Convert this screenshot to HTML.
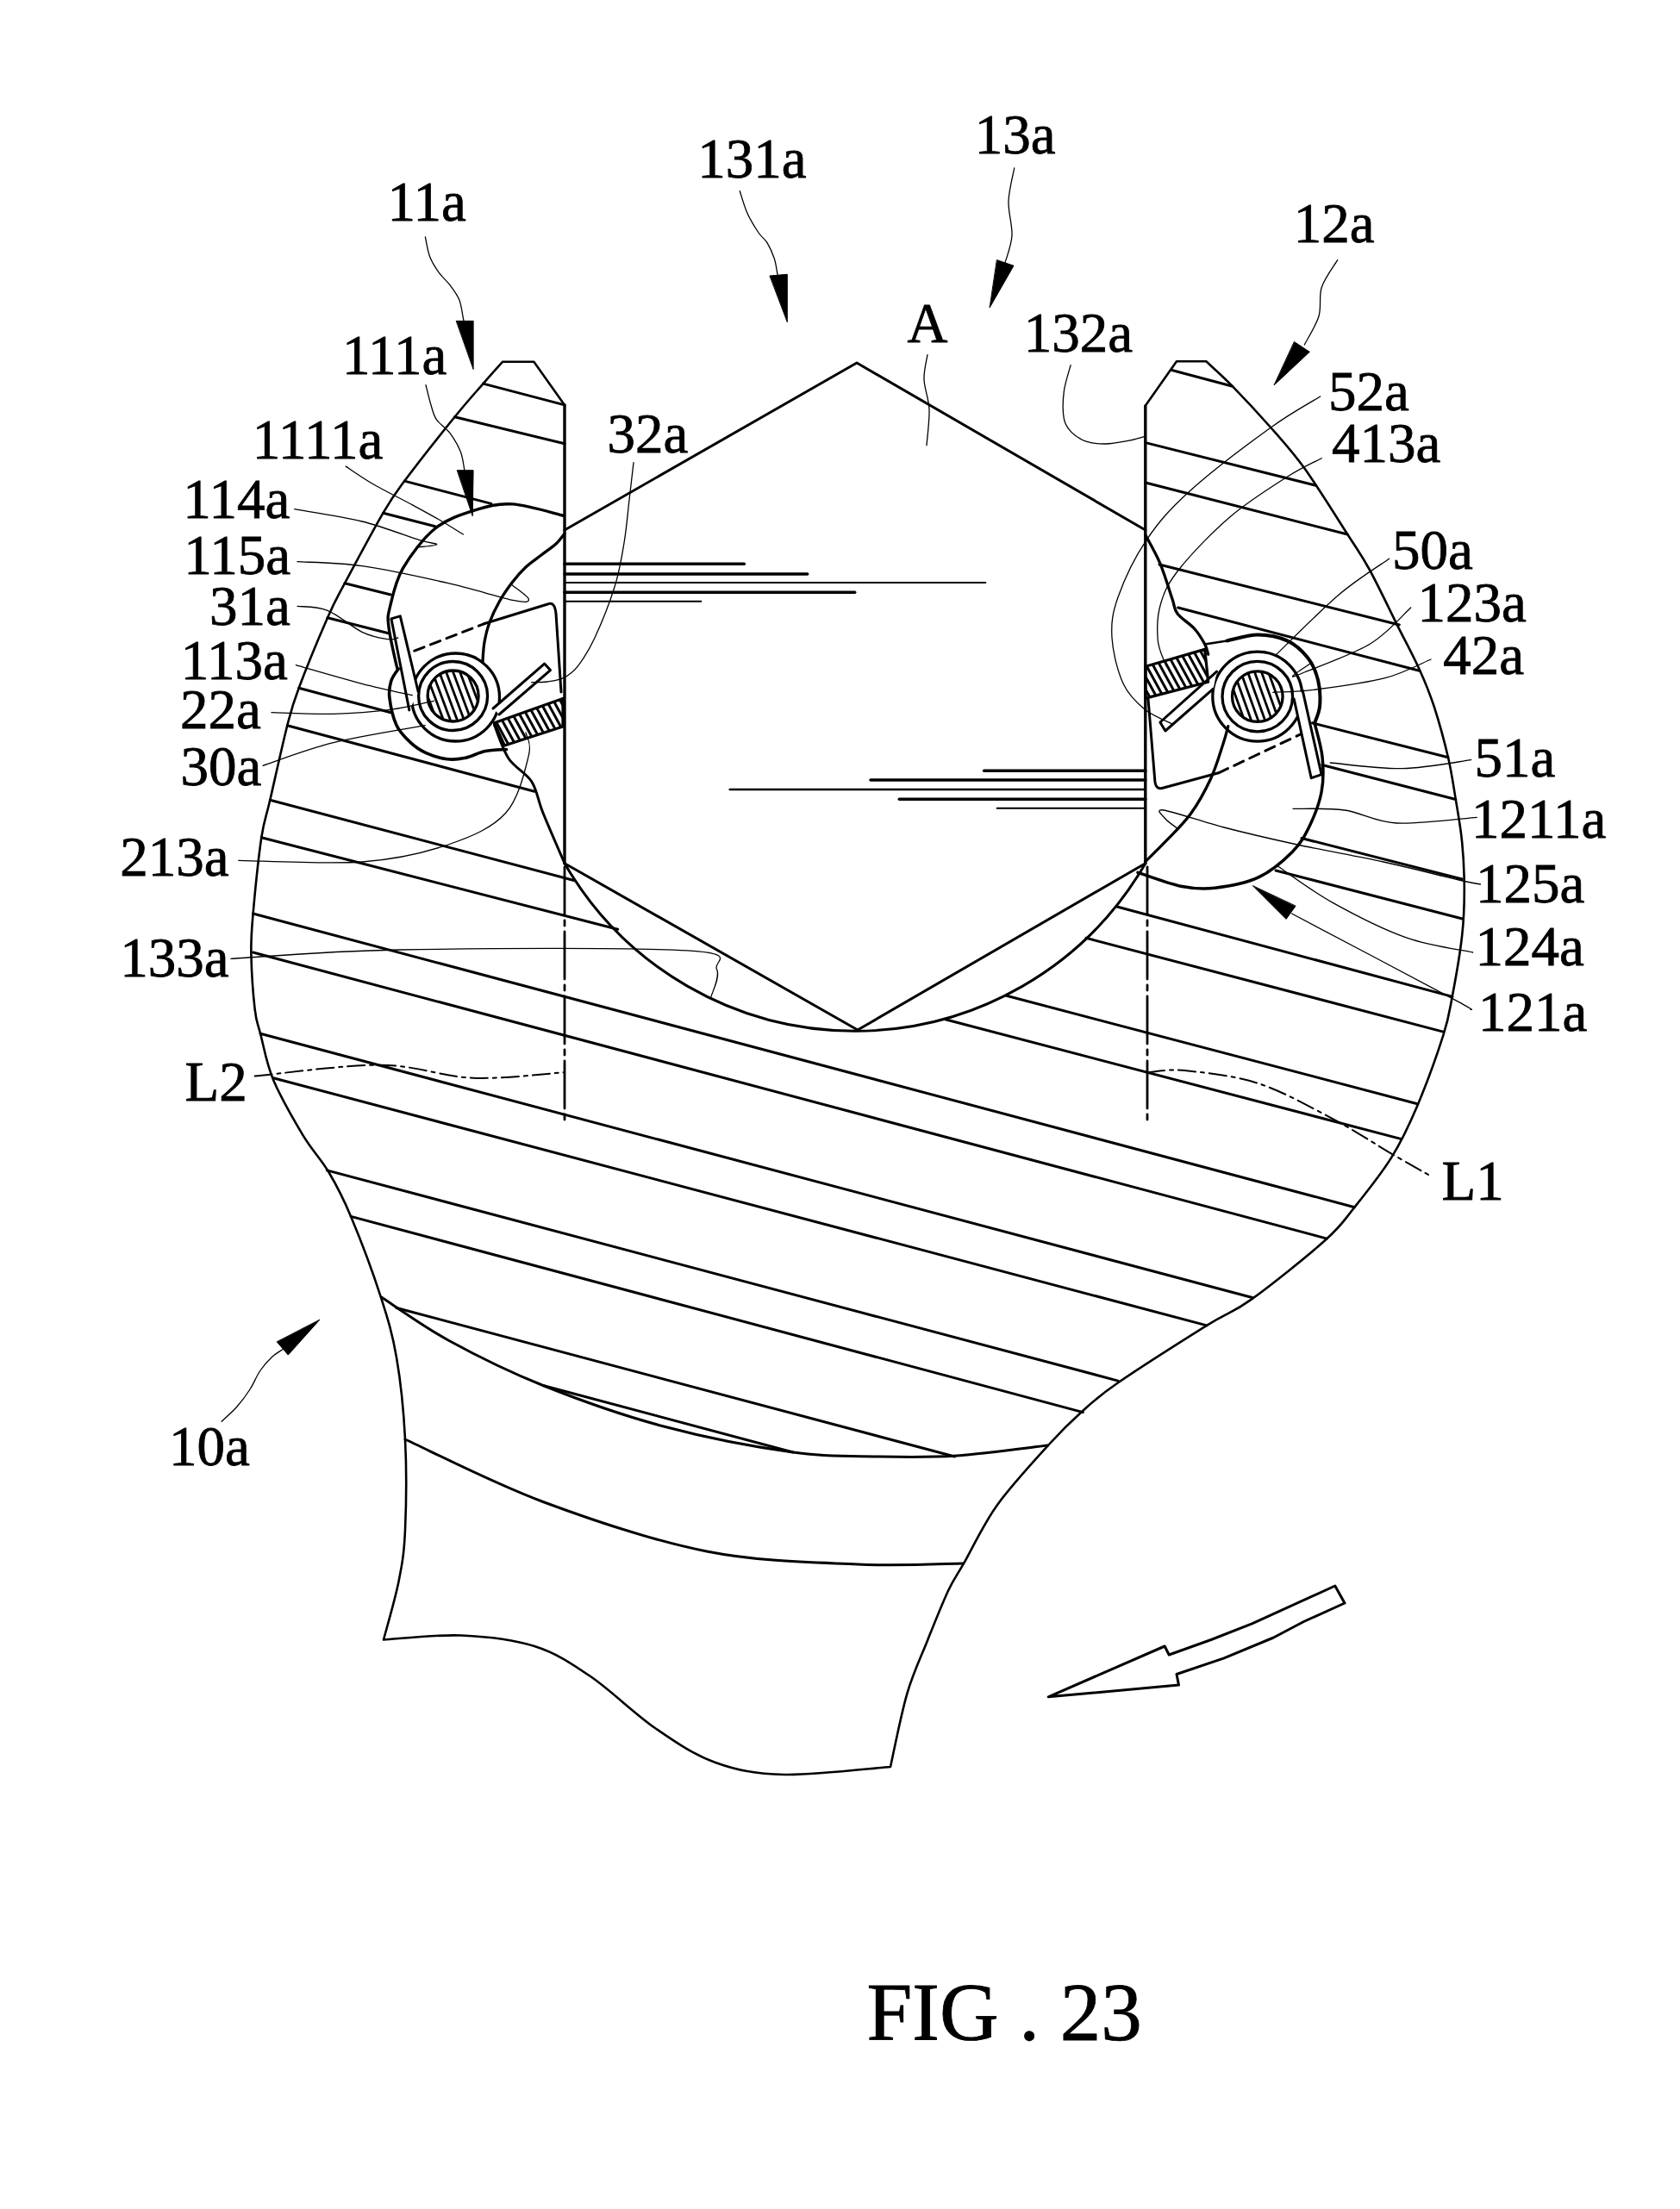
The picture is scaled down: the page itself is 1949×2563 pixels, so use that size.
<!DOCTYPE html><html><head><meta charset="utf-8"><style>html,body{margin:0;padding:0;background:#fff;}svg{display:block;}</style></head><body><svg width="1949" height="2563" viewBox="0 0 1949 2563"><defs><clipPath id="pinclip"><circle cx="525.6" cy="807.5" r="28.5"/></clipPath><clipPath id="blkclip"><path d="M573.4,838.8 L653,810.4 L653,843 L585.3,865 Z"/></clipPath><clipPath id="pinclip2"><circle cx="1458.8" cy="808.1" r="28.3"/></clipPath><clipPath id="blkclip2"><path d="M1329,773.3 L1397.7,753.4 L1401.7,791.2 L1329,810.1 Z"/></clipPath></defs><g fill="none" stroke="#000" stroke-linecap="round" stroke-linejoin="round"><path d="M655,469.9 L619.4,419.7 L583.2,419.7 C579.4,423.9 569.9,434.4 560.6,445.1 C551.3,455.8 542.7,465 527.5,483.8 C512.3,502.6 483.1,539.5 469.3,558.1 C455.5,576.7 456.1,575.4 444.5,595.2 C432.9,615 410.8,656.5 400,676.7 C389.2,697 388.9,696.4 380,716.7 C371.1,737 354.5,777.5 346.7,798.3 C338.9,819.1 338.9,820 333.3,841.7 C327.7,863.4 318.3,906.6 313.3,928.3 C308.3,950 306.6,949.8 303.3,971.7 C300,993.7 295.6,1037.4 293.6,1060 C291.6,1082.6 291,1088.5 291.4,1107.1 C291.8,1125.7 293.9,1156 295.7,1171.4 C297.5,1186.8 298.5,1185.7 302.1,1199.3 C305.7,1212.9 308.9,1233.3 317.1,1252.9 C325.3,1272.5 340.7,1299.2 351.4,1317.1 C362.1,1334.9 372.1,1344.3 381.4,1360 C390.7,1375.7 397.1,1387.5 407.1,1411.4 C417.1,1435.3 432.6,1476.3 441.4,1503.6 C450.2,1530.9 455.2,1547.3 460,1575 C464.8,1602.7 468.3,1636.7 470,1670 C471.7,1703.3 471.2,1747.5 470,1775 C468.8,1802.5 466.7,1813.8 462.5,1835 C458.3,1856.2 447.9,1891.2 445,1902.5 C460,1901.7 505.8,1896.2 535,1897.5 C564.2,1898.8 595,1902.1 620,1910 C645,1917.9 661.7,1929.2 685,1945 C708.3,1960.8 735.8,1988.3 760,2005 C784.2,2021.7 805,2036 830,2045 C855,2054 876.2,2058.2 910,2059 C943.8,2059.8 1012.5,2051.5 1033,2050 C1036.2,2035.8 1045.2,1989.3 1052.4,1964.8 C1059.6,1940.3 1068.3,1922.8 1076.2,1902.9 C1084.1,1883.1 1092.9,1860.8 1100,1845.7 C1107.1,1830.6 1109.5,1829 1119,1812.4 C1128.5,1795.8 1140.4,1769.2 1156.9,1746.2 C1173.5,1723.2 1202.1,1692.4 1218.3,1674.5 C1234.5,1656.6 1241.1,1650.4 1254.2,1638.7 C1267.3,1627 1272.8,1621.1 1297.1,1604.3 C1321.4,1587.5 1374.3,1554 1400,1537.9 C1425.7,1521.8 1428.6,1524.3 1451.4,1507.9 C1474.2,1491.5 1517.1,1457.2 1537.1,1439.3 C1557.1,1421.4 1558.5,1416.8 1571.4,1400.7 C1584.3,1384.6 1602.2,1362.5 1614.3,1342.9 C1626.4,1323.3 1634.3,1306.5 1644.3,1282.9 C1654.3,1259.3 1667.5,1222.7 1674.3,1201.4 C1681.1,1180.1 1681.3,1174.4 1685,1155 C1688.7,1135.6 1694,1105.4 1696.2,1085 C1698.5,1064.6 1698.8,1050.4 1698.8,1032.5 C1698.8,1014.6 1697.9,995 1696.2,977.5 C1694.6,960 1691.5,944 1688.8,927.5 C1686,911 1684.2,896.7 1680,878.8 C1675.8,860.8 1669.3,837 1663.8,820 C1658.2,803 1654,792.8 1646.7,776.7 C1639.4,760.6 1629.7,742.8 1620,723.3 C1610.3,703.8 1597.8,677.2 1588.3,660 C1578.8,642.8 1575.8,639.5 1563.3,620 C1550.8,600.5 1528.3,564.1 1513.3,543.3 C1498.3,522.5 1487.2,510.8 1473.3,495 C1459.4,479.2 1442.3,460.9 1430,448.3 C1417.7,435.7 1404.4,424.1 1399.3,419.3 L1365,419.3 L1328.6,471" stroke-width="2.6"/><line x1="655" y1="469.9" x2="655" y2="1001.7" stroke-width="3.4"/><line x1="1328.8" y1="471" x2="1328.8" y2="1001.7" stroke-width="3.4"/><line x1="655" y1="1006" x2="655" y2="1304" stroke-width="2.8" stroke-dasharray="55,7,6,7"/><line x1="1331" y1="1006" x2="1331" y2="1304" stroke-width="2.8" stroke-dasharray="55,7,6,7"/><path d="M655,615 L994,421 L1328.8,615" stroke-width="3"/><path d="M655,1001.7 L995,1195 L1328.8,1001.7" stroke-width="3"/><path d="M655,1001.7 A389,389 0 0 0 1328.8,1001.7" stroke-width="3"/><line x1="560.6" y1="445.1" x2="655" y2="469.9" stroke-width="3.0"/><line x1="527.5" y1="483.8" x2="655" y2="514.8" stroke-width="3.0"/><line x1="469.3" y1="558.1" x2="569.9" y2="584.4" stroke-width="3.0"/><line x1="444.5" y1="595.2" x2="504.9" y2="610.7" stroke-width="3.0"/><line x1="400" y1="676.7" x2="453.3" y2="690" stroke-width="3.0"/><line x1="380" y1="716.7" x2="451.7" y2="735" stroke-width="3.0"/><line x1="346.7" y1="798.3" x2="453.3" y2="826.7" stroke-width="3.0"/><line x1="333.3" y1="841.7" x2="620" y2="918.3" stroke-width="3.0"/><line x1="313.3" y1="928.3" x2="666.7" y2="1021.7" stroke-width="3.0"/><line x1="303.3" y1="971.7" x2="716.7" y2="1078.3" stroke-width="3.0"/><line x1="293.6" y1="1060" x2="1571.4" y2="1400.7" stroke-width="3.0"/><line x1="293.6" y1="1105" x2="1539.3" y2="1437.1" stroke-width="3.0"/><line x1="302.1" y1="1199.3" x2="1453.6" y2="1505.7" stroke-width="3.0"/><line x1="317.1" y1="1250.7" x2="1400" y2="1537.9" stroke-width="3.0"/><line x1="379.3" y1="1357.9" x2="1297.1" y2="1602.1" stroke-width="3.0"/><line x1="407.1" y1="1411.4" x2="1256.4" y2="1638.6" stroke-width="3.0"/><line x1="460" y1="1517.5" x2="1107.5" y2="1690" stroke-width="3.0"/><line x1="630" y1="1607.5" x2="920" y2="1685" stroke-width="3.0"/><line x1="1358.6" y1="429.3" x2="1430" y2="448.3" stroke-width="3.0"/><line x1="1329" y1="513.6" x2="1526.7" y2="563.3" stroke-width="3.0"/><line x1="1329" y1="560" x2="1563.3" y2="620" stroke-width="3.0"/><line x1="1345" y1="655" x2="1623.3" y2="725" stroke-width="3.0"/><line x1="1366.7" y1="705" x2="1646.7" y2="778.3" stroke-width="3.0"/><line x1="1522.5" y1="838.8" x2="1680" y2="878.8" stroke-width="3.0"/><line x1="1533.8" y1="887.5" x2="1688.8" y2="927.5" stroke-width="3.0"/><line x1="1510" y1="972.5" x2="1696.2" y2="1020" stroke-width="3.0"/><line x1="1480" y1="1010" x2="1697.5" y2="1066.2" stroke-width="3.0"/><line x1="1295" y1="1051.7" x2="1685" y2="1156.4" stroke-width="3.0"/><line x1="1260" y1="1088.3" x2="1674.3" y2="1197.1" stroke-width="3.0"/><line x1="1166.7" y1="1155" x2="1644.3" y2="1280.7" stroke-width="3.0"/><line x1="1096.7" y1="1182.7" x2="1625" y2="1321.4" stroke-width="3.0"/><path d="M442.5,1505 C455.4,1513.3 488.8,1537.9 520,1555 C551.2,1572.1 588.3,1590.8 630,1607.5 C671.7,1624.2 721.7,1642.1 770,1655 C818.3,1667.9 878.3,1679.2 920,1685 C961.7,1690.8 988.3,1689.3 1020,1690 C1051.7,1690.7 1077.4,1691.2 1110,1689 C1142.6,1686.8 1198.1,1679.1 1215.7,1677.1" stroke-width="3"/><path d="M470,1670 C496.7,1682.1 571.7,1720.8 630,1742.5 C688.3,1764.2 759.2,1787.9 820,1800 C880.8,1812.1 945.4,1812.7 995,1815 C1044.6,1817.3 1097.1,1814.2 1117.5,1814" stroke-width="3"/><line x1="655" y1="654.3" x2="863.3" y2="654.3" stroke-width="3.5"/><line x1="655" y1="666" x2="936.7" y2="666" stroke-width="3.5"/><line x1="655" y1="676" x2="1143.3" y2="676" stroke-width="2"/><line x1="655" y1="687.3" x2="991.7" y2="687.3" stroke-width="3.5"/><line x1="655" y1="697.7" x2="813.3" y2="697.7" stroke-width="2"/><line x1="1141.7" y1="894.3" x2="1328.8" y2="894.3" stroke-width="3.5"/><line x1="1010" y1="905" x2="1328.8" y2="905" stroke-width="3.5"/><line x1="846.7" y1="916" x2="1328.8" y2="916" stroke-width="2.5"/><line x1="1043.3" y1="927.3" x2="1328.8" y2="927.3" stroke-width="3.5"/><line x1="1156.7" y1="937.7" x2="1328.8" y2="937.7" stroke-width="2"/><g><path d="M654,598.4 C644,596.1 611.7,585.9 594.3,584.9 C576.9,583.9 564.4,587.7 549.5,592.4 C534.6,597.1 518.4,602.1 504.7,613.3 C491,624.5 476,644.4 467.3,659.6 C458.6,674.8 455.1,693.2 452.4,704.4 C449.7,715.6 449.6,715.6 450.9,726.8 C452.1,738 458,763.4 459.9,771.6 C461.8,779.8 461.7,775.4 462.1,776.1" stroke-width="3.4"/><path d="M462.1,776.1 C460.7,778.4 455.5,784.5 453.8,790 C452.1,795.5 450.8,800.3 451.8,808.8 C452.8,817.3 455.8,832.4 459.9,841.2 C463.9,850 470.4,856 476.1,861.4 C481.8,866.8 487.2,870.4 494.3,873.6 C501.4,876.8 511.2,879.7 518.6,880.7 C526,881.7 531.4,881.1 538.8,879.6 C546.2,878.1 555,873.3 563.1,871.6 C571.2,869.9 583.4,869.9 587.4,869.5" stroke-width="3.6"/><path d="M655,619 C653.3,621 649.5,626.8 645,631 C640.5,635.2 633.8,639.5 628,644 C622.2,648.5 615.7,652.7 610,658 C604.3,663.3 599.1,669.3 594,676 C588.9,682.7 583.6,690.3 579.3,698 C575,705.7 570.9,714.2 568,722 C565.1,729.8 563.4,737.2 562,745 C560.6,752.8 560.2,764.7 559.9,768.6" stroke-width="3.3"/><path d="M480.8,755.2 L561.4,723.8" stroke-width="3" stroke-dasharray="12,8"/><path d="M561.4,723.8 L636.1,700.7 Q643.6,698 645,711.9 L651,803" stroke-width="3"/><circle cx="525.6" cy="807.5" r="29.5" stroke-width="3.3"/><circle cx="525.6" cy="807.5" r="40" stroke-width="3.3"/><circle cx="528.5" cy="809" r="51" stroke-width="3.3"/><g clip-path="url(#pinclip)"><line x1="466" y1="770" x2="494" y2="845" stroke-width="2.8"/><line x1="474" y1="770" x2="502" y2="845" stroke-width="2.8"/><line x1="482" y1="770" x2="510" y2="845" stroke-width="2.8"/><line x1="490" y1="770" x2="518" y2="845" stroke-width="2.8"/><line x1="498" y1="770" x2="526" y2="845" stroke-width="2.8"/><line x1="506" y1="770" x2="534" y2="845" stroke-width="2.8"/><line x1="514" y1="770" x2="542" y2="845" stroke-width="2.8"/><line x1="522" y1="770" x2="550" y2="845" stroke-width="2.8"/><line x1="530" y1="770" x2="558" y2="845" stroke-width="2.8"/><line x1="538" y1="770" x2="566" y2="845" stroke-width="2.8"/><line x1="546" y1="770" x2="574" y2="845" stroke-width="2.8"/><line x1="554" y1="770" x2="582" y2="845" stroke-width="2.8"/><line x1="562" y1="770" x2="590" y2="845" stroke-width="2.8"/><line x1="570" y1="770" x2="598" y2="845" stroke-width="2.8"/><line x1="578" y1="770" x2="606" y2="845" stroke-width="2.8"/></g><path d="M474.8,823.9 L453.9,717.9 L464.3,714.9 L485.3,803" stroke-width="3" fill="#fff"/><path d="M572,822 L631.6,770.1 L638.5,777.6 L579,829" stroke-width="3" fill="#fff"/><path d="M573.4,838.8 L653,810.4 L653,843 L585.3,865 Z" stroke-width="3.2"/><g clip-path="url(#blkclip)"><line x1="515" y1="800" x2="556" y2="875" stroke-width="3"/><line x1="523" y1="800" x2="564" y2="875" stroke-width="3"/><line x1="531" y1="800" x2="572" y2="875" stroke-width="3"/><line x1="539" y1="800" x2="580" y2="875" stroke-width="3"/><line x1="547" y1="800" x2="588" y2="875" stroke-width="3"/><line x1="555" y1="800" x2="596" y2="875" stroke-width="3"/><line x1="563" y1="800" x2="604" y2="875" stroke-width="3"/><line x1="571" y1="800" x2="612" y2="875" stroke-width="3"/><line x1="579" y1="800" x2="620" y2="875" stroke-width="3"/><line x1="587" y1="800" x2="628" y2="875" stroke-width="3"/><line x1="595" y1="800" x2="636" y2="875" stroke-width="3"/><line x1="603" y1="800" x2="644" y2="875" stroke-width="3"/><line x1="611" y1="800" x2="652" y2="875" stroke-width="3"/><line x1="619" y1="800" x2="660" y2="875" stroke-width="3"/><line x1="627" y1="800" x2="668" y2="875" stroke-width="3"/><line x1="635" y1="800" x2="676" y2="875" stroke-width="3"/><line x1="643" y1="800" x2="684" y2="875" stroke-width="3"/><line x1="651" y1="800" x2="692" y2="875" stroke-width="3"/><line x1="659" y1="800" x2="700" y2="875" stroke-width="3"/></g><path d="M573.4,841 C576.2,847.5 582.8,869 590,880 C597.2,891 610,896.2 616.7,906.7 C623.4,917.2 623.6,927.5 630,943.3 C636.4,959.1 650.8,992 655,1001.7" stroke-width="3"/></g><g><path d="M1329,621 C1331.8,626.5 1340.7,641.5 1345.9,653.8 C1351.1,666.1 1356.7,685.3 1360,695 C1363.3,704.7 1361.7,706.2 1366,712 C1370.3,717.8 1380.4,723.6 1385.7,729.5 C1391,735.4 1395,742.4 1397.7,747.4 C1400.4,752.4 1401,757.3 1401.7,759.3" stroke-width="3.3"/><path d="M1397.7,747.4 L1423.6,743.4" stroke-width="2.5"/><path d="M1423.6,743.4 C1429.6,742.2 1447.8,736.4 1459.4,736.4 C1471,736.4 1483.7,738.9 1493.3,743.4 C1502.9,747.9 1511.2,755.7 1517.2,763.3 C1523.2,770.9 1526.8,779.9 1529.1,789.2 C1531.4,798.5 1531.8,810.8 1531.1,819.1 C1530.4,827.4 1526.1,835.7 1525.1,839" stroke-width="4"/><path d="M1525.1,839 C1526.6,845.6 1532.8,865.5 1534.1,878.8 C1535.4,892.1 1535.6,905.4 1533.1,918.7 C1530.6,932 1524.8,946.9 1519.2,958.5 C1513.6,970.1 1509.2,978.4 1499.2,988.4 C1489.2,998.4 1474.3,1011.2 1459.4,1018.2 C1444.5,1025.2 1424.5,1028.5 1409.6,1030.2 C1394.7,1031.9 1384.7,1031.2 1369.8,1028.2 C1354.9,1025.2 1328.3,1014.9 1320,1012.3" stroke-width="3.5"/><path d="M1329,999.4 C1332.9,995.5 1343.6,985.4 1352.3,976.2 C1361,967 1372.6,956.4 1381.3,944.3 C1390,932.2 1398.2,917.2 1404.5,903.7 C1410.8,890.2 1415.6,873.2 1419,863 C1422.4,852.8 1423.8,846.1 1424.8,842.7" stroke-width="3.3"/><path d="M1332,811 L1339.9,906.7 Q1341,917 1350,914 L1413.6,896.8" stroke-width="3"/><path d="M1413.6,896.8 L1519.2,847" stroke-width="3" stroke-dasharray="12,8"/><circle cx="1458.8" cy="808.1" r="29.3" stroke-width="3.3"/><circle cx="1458.8" cy="808.1" r="40.8" stroke-width="3.3"/><circle cx="1458.8" cy="808.1" r="52" stroke-width="3.3"/><g clip-path="url(#pinclip2)"><line x1="1396" y1="770" x2="1424" y2="848" stroke-width="2.8"/><line x1="1404" y1="770" x2="1432" y2="848" stroke-width="2.8"/><line x1="1412" y1="770" x2="1440" y2="848" stroke-width="2.8"/><line x1="1420" y1="770" x2="1448" y2="848" stroke-width="2.8"/><line x1="1428" y1="770" x2="1456" y2="848" stroke-width="2.8"/><line x1="1436" y1="770" x2="1464" y2="848" stroke-width="2.8"/><line x1="1444" y1="770" x2="1472" y2="848" stroke-width="2.8"/><line x1="1452" y1="770" x2="1480" y2="848" stroke-width="2.8"/><line x1="1460" y1="770" x2="1488" y2="848" stroke-width="2.8"/><line x1="1468" y1="770" x2="1496" y2="848" stroke-width="2.8"/><line x1="1476" y1="770" x2="1504" y2="848" stroke-width="2.8"/><line x1="1484" y1="770" x2="1512" y2="848" stroke-width="2.8"/><line x1="1492" y1="770" x2="1520" y2="848" stroke-width="2.8"/><line x1="1500" y1="770" x2="1528" y2="848" stroke-width="2.8"/><line x1="1508" y1="770" x2="1536" y2="848" stroke-width="2.8"/></g><path d="M1501.2,811.1 L1521.2,902.7 L1533.1,898.7 L1511.2,801.2" stroke-width="3" fill="#fff"/><path d="M1411.6,779.2 L1345.9,838 L1351.9,848 L1407.6,799.2" stroke-width="3" fill="#fff"/><path d="M1329,773.3 L1397.7,753.4 L1401.7,791.2 L1329,810.1 Z" stroke-width="3.2"/><g clip-path="url(#blkclip2)"><line x1="1275" y1="745" x2="1316" y2="820" stroke-width="3"/><line x1="1283" y1="745" x2="1324" y2="820" stroke-width="3"/><line x1="1291" y1="745" x2="1332" y2="820" stroke-width="3"/><line x1="1299" y1="745" x2="1340" y2="820" stroke-width="3"/><line x1="1307" y1="745" x2="1348" y2="820" stroke-width="3"/><line x1="1315" y1="745" x2="1356" y2="820" stroke-width="3"/><line x1="1323" y1="745" x2="1364" y2="820" stroke-width="3"/><line x1="1331" y1="745" x2="1372" y2="820" stroke-width="3"/><line x1="1339" y1="745" x2="1380" y2="820" stroke-width="3"/><line x1="1347" y1="745" x2="1388" y2="820" stroke-width="3"/><line x1="1355" y1="745" x2="1396" y2="820" stroke-width="3"/><line x1="1363" y1="745" x2="1404" y2="820" stroke-width="3"/><line x1="1371" y1="745" x2="1412" y2="820" stroke-width="3"/><line x1="1379" y1="745" x2="1420" y2="820" stroke-width="3"/><line x1="1387" y1="745" x2="1428" y2="820" stroke-width="3"/><line x1="1395" y1="745" x2="1436" y2="820" stroke-width="3"/><line x1="1403" y1="745" x2="1444" y2="820" stroke-width="3"/></g></g><path d="M493.4,274.9 C494.3,278.8 496,291.1 498.7,298.1 C501.4,305.1 505.6,311.3 509.5,316.7 C513.4,322.1 518,325.5 521.9,330.6 C525.8,335.8 530.1,341.2 532.7,347.6 C535.3,354.1 536.4,364.6 537.4,369.3 C538.4,374 538.7,374.9 539,376" stroke-width="1.3"/><path d="M494,446.7 C495,450.6 497.9,463.3 500,470 C502.1,476.7 502.8,481.5 506.4,486.9 C510,492.3 517.2,496.2 521.9,502.4 C526.5,508.6 531.5,516.8 534.3,524 C537.1,531.2 538,541.4 538.9,545.7 C539.8,550 539.4,549.3 539.5,550" stroke-width="1.3"/><path d="M858.3,221.7 C859.7,225.9 863.1,238.6 866.7,246.7 C870.3,254.8 876.1,264.2 880,270 C883.9,275.8 887,276.7 890,281.7 C893,286.7 896.3,294.2 898.3,300 C900.2,305.8 900.9,312.5 901.7,316.7 C902.5,320.9 902.8,323.6 903,325" stroke-width="1.3"/><path d="M1176.7,195 C1175.6,201.4 1170.5,220.2 1170,233.3 C1169.5,246.4 1174.7,261.4 1174,273.3 C1173.3,285.2 1167.3,299.7 1166,305" stroke-width="1.3"/><path d="M1551.7,301.7 C1548.6,307 1536.9,322.5 1533.3,333.3 C1529.7,344.1 1533.3,355.6 1530,366.7 C1526.7,377.8 1516.1,394.4 1513.3,400" stroke-width="1.3"/><path d="M1076,411.7 C1075.3,416.4 1071.7,429.4 1072,440 C1072.3,450.6 1077.5,462.2 1078,475 C1078.5,487.8 1075.5,509.8 1075,516.7" stroke-width="1.3"/><path d="M1242.1,423.6 C1240.8,428.7 1235.6,444 1234.3,454.3 C1233,464.6 1232.9,477.9 1234.3,485.7 C1235.7,493.5 1238.6,497 1242.9,501.4 C1247.2,505.8 1253.3,509.8 1260,512.1 C1266.7,514.4 1274.8,515.1 1282.9,515 C1291,514.9 1301.1,512.8 1308.6,511.4 C1316.1,510 1324.7,507.2 1327.9,506.4" stroke-width="1.3"/><path d="M735,536.7 C734.2,543.9 731.8,564.5 730,580 C728.2,595.5 726.8,613.3 724,630 C721.2,646.7 719,661.7 713.3,680 C707.6,698.3 697.2,724.5 690,740 C682.8,755.5 676.1,765.5 670,773.3 C663.9,781.1 659.1,783.8 653.3,786.7 C647.5,789.7 641.1,790.2 635,791 C628.9,791.8 619.8,791.6 616.7,791.7" stroke-width="1.3"/><path d="M401.2,541.1 C406.4,544.5 419.2,553.7 432.1,561.2 C445,568.7 465.7,578.9 478.6,585.9 C491.5,592.9 499.7,597.3 509.5,603 C519.3,608.7 532.8,617.2 537.4,620" stroke-width="1.3"/><path d="M341.7,590.7 C354.8,593.1 395.8,599 420,605 C444.2,611 472.2,622.2 486.7,626.7 C501.1,631.2 507.3,630.3 506.7,631.7 C506.1,633.1 487.2,634.5 483.3,635" stroke-width="1.3"/><path d="M345,651.7 C357.5,652.5 390.8,652.5 420,656.7 C449.2,660.9 490.6,670 520,676.7 C549.5,683.4 581.2,693.7 596.7,696.7 C612.2,699.8 613.9,698.1 613.3,695 C612.7,691.9 596.6,681.1 593.3,678.3" stroke-width="1.3"/><path d="M345,703.3 C350.8,704.1 367.5,703.3 380,708.3 C392.5,713.3 408.3,727.7 420,733.3 C431.7,738.9 443.1,740.6 450,741.7 C456.9,742.8 459.8,740.3 461.7,740" stroke-width="1.3"/><path d="M343.3,771.7 C356.1,775.3 397.5,787.5 420,793.3 C442.5,799.1 468.6,804.5 478.3,806.7" stroke-width="1.3"/><path d="M315,826.7 C326.9,827 363.6,828.9 386.7,828.3 C409.8,827.7 433.9,825.8 453.3,823.3 C472.7,820.8 495,815 503.3,813.3" stroke-width="1.3"/><path d="M305,888.3 C318.6,883.9 355.3,869.5 386.7,861.7 C418.1,853.9 475.5,845 493.3,841.7" stroke-width="1.3"/><path d="M276.7,998.3 C300.6,998.6 379.4,1003 420,1000 C460.6,997 492.2,989.5 520,980 C547.8,970.5 571.2,960.5 586.7,943.3 C602.2,926.1 609.4,892.2 613.3,876.7 C617.2,861.2 610.5,854.5 610,850" stroke-width="1.3"/><path d="M267.9,1112.3 C300.4,1110.6 374.7,1103.6 462.9,1102 C551.1,1100.4 735.7,1099.2 797.1,1102.9 C858.5,1106.6 826.8,1115.4 831.4,1124.3 C836,1133.2 826.1,1151.1 825,1156.4" stroke-width="1.3"/><path d="M1531.7,460 C1522,466.1 1498.6,478.4 1473.3,496.7 C1448,515 1403.9,548.3 1380,570 C1356.1,591.7 1343.8,606.2 1330,626.7 C1316.2,647.2 1303.7,674.1 1297,693 C1290.3,711.9 1289,723.3 1290,740 C1291,756.7 1296.7,779.2 1303,793 C1309.3,806.8 1318.5,815.2 1328,823 C1337.5,830.8 1354.7,837.2 1360,840" stroke-width="1.3"/><path d="M1533.3,531.7 C1526.6,535.3 1511.1,541.9 1493.3,553.3 C1475.5,564.7 1447.5,582.2 1426.7,600 C1405.9,617.8 1381.6,643.3 1368.3,660 C1355,676.7 1350.9,686.1 1346.7,700 C1342.5,713.9 1342.2,731.1 1343.3,743.3 C1344.4,755.5 1351.6,768.3 1353.3,773.3" stroke-width="1.3"/><path d="M1611.7,648.3 C1602,655.2 1575.2,671.4 1553.3,690 C1531.3,708.6 1492.2,748.3 1480,760" stroke-width="1.3"/><path d="M1636.7,705 C1628.9,712 1610.6,734.2 1590,746.7 C1569.4,759.2 1528.3,773.8 1513.3,780 C1498.3,786.2 1498.9,785.7 1500,784 C1501.1,782.3 1516.7,772.3 1520,770" stroke-width="1.3"/><path d="M1660,765 C1651.1,768.6 1628.9,780.9 1606.7,786.7 C1584.5,792.5 1548.4,797.2 1526.7,800 C1505,802.8 1485,802.8 1476.7,803.3" stroke-width="1.3"/><path d="M1706.7,881.7 C1693.4,883.4 1653.9,891.2 1626.7,891.7 C1599.5,892.2 1557.2,886.1 1543.3,885" stroke-width="1.3"/><path d="M1713.3,948.3 C1697.8,949.4 1645.5,956.4 1620,955 C1594.5,953.6 1580,942.8 1560,940 C1540,937.2 1510,938.6 1500,938.3" stroke-width="1.3"/><path d="M1717.5,1026 C1713.3,1025.2 1711.2,1025.3 1692.5,1021 C1673.8,1016.7 1636.2,1006.8 1605,1000 C1573.8,993.2 1535.8,986.7 1505,980 C1474.2,973.3 1445.8,966.7 1420,960 C1394.2,953.3 1361.3,941.7 1350,940 C1338.7,938.3 1349.2,946.4 1352,950 C1354.8,953.6 1364.2,959.8 1366.7,961.7" stroke-width="1.3"/><path d="M1708.6,1105 C1695.7,1102.2 1658.6,1097.6 1631.4,1087.9 C1604.2,1078.2 1570.7,1061 1545.7,1047.1 C1520.7,1033.2 1492.1,1011.4 1481.4,1004.3" stroke-width="1.3"/><path d="M1706.4,1171.4 C1702.8,1169.3 1719.6,1177.2 1685,1158.6 C1650.4,1140 1529.7,1076.4 1498.6,1060" stroke-width="1.3"/><path d="M257.1,1649.3 C260.1,1646.4 269.5,1638.2 275,1632 C280.5,1625.8 285.5,1619 290,1612 C294.5,1605 297.7,1596.3 302,1590 C306.3,1583.7 311.7,1578 316,1574 C320.3,1570 325.9,1567.1 327.9,1565.7" stroke-width="1.3"/><path d="M1331.4,1244.3 C1338.6,1243.9 1352.9,1240 1374.3,1242.1 C1395.7,1244.2 1431.4,1247.8 1460,1257.1 C1488.6,1266.4 1520,1284.3 1545.7,1297.9 C1571.4,1311.5 1595.4,1327.5 1614.3,1338.6 C1633.2,1349.7 1651.8,1360 1659.3,1364.3" stroke-width="2" stroke-dasharray="20,6,4,6"/><path d="M295.7,1248.6 C320,1246.4 399.2,1235.3 441.4,1235.7 C483.5,1236.1 513.2,1249.3 548.6,1250.7 C584,1252.1 636.1,1245.4 653.6,1244.3" stroke-width="2" stroke-dasharray="20,6,4,6"/><path d="M529.6,372.4 L549.1,372.4 L549.1,428.1 Z" fill="#000" stroke-width="1"/><path d="M530.6,545.7 L549.1,545.7 L548.2,598.3 Z" fill="#000" stroke-width="1"/><path d="M893.3,320 L913.3,318.3 L913.3,373.3 Z" fill="#000" stroke-width="1"/><path d="M1156.7,301.7 L1176,308.3 L1148.3,356.7 Z" fill="#000" stroke-width="1"/><path d="M1501.7,396.7 L1519.3,408.3 L1478.3,446.7 Z" fill="#000" stroke-width="1"/><path d="M1502.9,1051.4 L1492.1,1066.4 L1453.6,1027.9 Z" fill="#000" stroke-width="1"/><path d="M321.4,1557.1 L334.3,1572.1 L370.7,1531.4 Z" fill="#000" stroke-width="1"/><path d="M1216.2,1968.8 L1351.2,1910 L1356.2,1920 L1405,1902.5 L1452.5,1883.8 L1548.8,1840 L1560,1860 L1512.5,1881.5 L1477.5,1900 L1420,1923.8 L1365,1942.5 L1367.5,1955 Z" stroke-width="3"/></g><g font-family="&quot;Liberation Serif&quot;, serif" fill="#000" stroke="#000" stroke-width="0.8"><text x="449.4" y="255.7" font-size="65">11a</text><text x="809.2" y="206.4" font-size="65">131a</text><text x="1130.8" y="178" font-size="65">13a</text><text x="1500.8" y="281.4" font-size="65">12a</text><text x="1052.4" y="397" font-size="65">A</text><text x="1187.7" y="407.6" font-size="65">132a</text><text x="396.9" y="434" font-size="65">111a</text><text x="292.8" y="531.5" font-size="65">1111a</text><text x="704.6" y="524.7" font-size="65">32a</text><text x="212.3" y="601.1" font-size="65">114a</text><text x="213.2" y="666.4" font-size="65">115a</text><text x="242.9" y="724.7" font-size="65">31a</text><text x="209.8" y="788" font-size="65">113a</text><text x="208.9" y="844.7" font-size="65">22a</text><text x="209.6" y="911.4" font-size="65">30a</text><text x="139.3" y="1016.4" font-size="65">213a</text><text x="139.2" y="1132.6" font-size="65">133a</text><text x="214.5" y="1276.7" font-size="65">L2</text><text x="196.1" y="1700.4" font-size="65">10a</text><text x="1541.1" y="475.9" font-size="65">52a</text><text x="1544.9" y="535.9" font-size="65">413a</text><text x="1614.9" y="659.7" font-size="65">50a</text><text x="1644.5" y="720.9" font-size="65">123a</text><text x="1674.3" y="782.2" font-size="65">42a</text><text x="1710.5" y="900.9" font-size="65">51a</text><text x="1706.9" y="972.2" font-size="65">1211a</text><text x="1712" y="1047.2" font-size="65">125a</text><text x="1711.4" y="1119.7" font-size="65">124a</text><text x="1715.1" y="1195.9" font-size="65">121a</text><text x="1672.6" y="1392.4" font-size="65">L1</text><text x="1005.5" y="2367.1" font-size="95">FIG . 23</text></g></svg></body></html>
